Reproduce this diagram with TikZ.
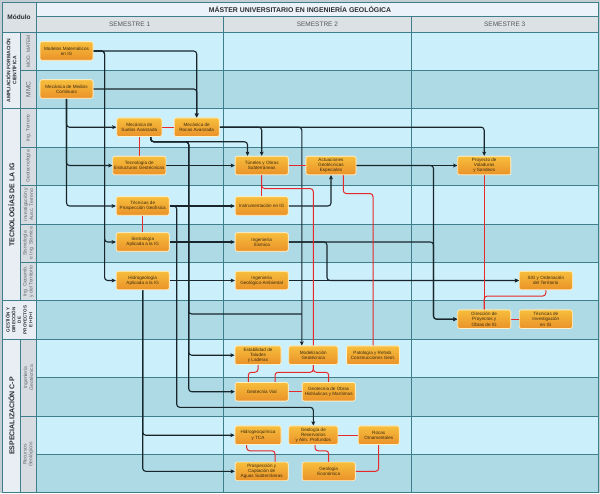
\documentclass[tikz,border=0pt]{standalone}
\usepackage{fontspec}
\setmainfont{Liberation Sans}
\usetikzlibrary{arrows.meta,calc}
\definecolor{outerbg}{HTML}{C4CDD3}
\definecolor{titlebg}{HTML}{ECF2F9}
\definecolor{sembg}{HTML}{DCE1E5}
\definecolor{modbg}{HTML}{E8EEF4}
\definecolor{subbg}{HTML}{D6DCE1}
\definecolor{rowlight}{HTML}{CBEFFB}
\definecolor{rowdark}{HTML}{AEDAE6}
\definecolor{gridc}{HTML}{3F7F8C}
\definecolor{boxtop}{HTML}{F7BE3C}
\definecolor{boxbot}{HTML}{EA9229}
\definecolor{boxborder}{HTML}{FFF0C8}
\definecolor{boxtext}{HTML}{3A2A10}
\definecolor{redline}{HTML}{E52A2A}
\definecolor{arrc}{HTML}{18262C}
\definecolor{subtext}{HTML}{5F6A70}
\definecolor{darktext}{HTML}{2A2E31}
\begin{document}
\begin{tikzpicture}[x=1pt,y=-1pt,
  box/.style={draw=boxborder, line width=0.6pt, rounded corners=2pt,
    top color=boxtop, bottom color=boxbot, minimum height=18.5pt,
    inner sep=0.5pt, align=center, text=boxtext,
    font=\fontsize{4.6}{5.3}\selectfont},
  arr/.style={draw=arrc, line width=1.1pt, rounded corners=3pt,
    -{Stealth[length=4.2pt,width=3.8pt,inset=0.8pt]}},
  plain/.style={draw=arrc, line width=1.1pt, rounded corners=3pt},
  assoc/.style={draw=redline, line width=1pt, rounded corners=3pt},
  gridl/.style={draw=gridc, line width=0.9pt},
  sublab/.style={rotate=90, align=center, text=subtext,
    font=\fontsize{5}{5.9}\selectfont},
  modlab/.style={rotate=90, align=center, text=darktext},
  semlab/.style={text=darktext!80, font=\fontsize{6.5}{7.5}\selectfont}]
\useasboundingbox (0,0) rectangle (600,493);
% backgrounds
\fill[outerbg] (0,0) rectangle (600,493);
\fill[titlebg] (36,2) rectangle (598,16);
\fill[sembg] (2,2) rectangle (36,32);
\fill[sembg] (36,16) rectangle (598,32);
\foreach \i in {0,2,...,10}{
  \fill[rowlight] (36,32+38.4*\i) rectangle (598,70.4+38.4*\i);}
\foreach \i in {1,3,...,11}{
  \fill[rowdark] (36,32+38.4*\i) rectangle (598,70.4+38.4*\i);}
\fill[modbg] (2,32) rectangle (20.7,492.8);
\fill[subbg] (20.7,32) rectangle (36,492.8);
\fill[modbg] (2,300.8) rectangle (36,339.2);
% grid
\draw[gridl] (2,2) rectangle (598,492.8);
\draw[gridl] (36,16) -- (598,16);
\foreach \y in {32,108.8,300.8,339.2}{\draw[gridl] (2,\y) -- (598,\y);}
\foreach \y in {70.4,147.2,185.6,224,262.4,416}{\draw[gridl] (20.7,\y) -- (598,\y);}
\foreach \y in {377.6,454.4}{\draw[gridl] (36,\y) -- (598,\y);}
\draw[gridl] (20.7,32) -- (20.7,300.8);
\draw[gridl] (20.7,339.2) -- (20.7,492.8);
\draw[gridl] (36,2) -- (36,492.8);
\draw[gridl] (223.3,16) -- (223.3,492.8);
\draw[gridl] (411.5,16) -- (411.5,492.8);
% headers
\node[text=darktext, font=\bfseries\fontsize{6.9}{8}\selectfont] (title) at (300,9) {MÁSTER UNIVERSITARIO EN INGENIERÍA GEOLÓGICA};
\node[text=darktext, font=\bfseries\fontsize{6.5}{7.5}\selectfont] (modulo) at (19,17) {Módulo};
\node[semlab] (s1) at (129.6,24) {SEMESTRE 1};
\node[semlab] (s2) at (317.4,24) {SEMESTRE 2};
\node[semlab] (s3) at (504.7,24) {SEMESTRE 3};
% module labels
\node[modlab, font=\bfseries\fontsize{5}{6}\selectfont] (mA) at (11.3,70.4) {AMPLIACIÓN FORMACIÓN\\CIENTÍFICA};
\node[modlab, font=\bfseries\fontsize{7}{8}\selectfont] (mB) at (11.3,204.8) {TECNOLOGÍAS DE LA IG};
\node[modlab, font=\bfseries\fontsize{4.5}{5.7}\selectfont] (mC) at (19,320) {GESTIÓN Y\\DIRECCIÓN\\DE\\PROYECTOS\\E I+D+I};
\node[modlab, font=\bfseries\fontsize{7}{8}\selectfont] (mD) at (11.3,416) {ESPECIALIZACIÓN C-P};
% submodule labels
\node[sublab] (l1) at (28.3,51.2) {MOD. MATEM};
\node[sublab, font=\fontsize{6.5}{7.5}\selectfont] (l2) at (28.3,89.6) {MMC};
\node[sublab] (l3) at (28.3,128) {Ing. Terreno};
\node[sublab] (l4) at (28.3,166.4) {Geotecnología};
\node[sublab] (l5) at (28.3,204.8) {Investigación y\\Ausc. Terreno};
\node[sublab] (l6) at (28.3,243.2) {Sismología\\e Ing. Sísmica};
\node[sublab] (l7) at (28.3,281.6) {Ing. Geoamb.\\y del Territorio};
\node[sublab] (l8) at (28.3,377.6) {Ingeniería\\Geotécnica};
\node[sublab] (l9) at (28.3,454.4) {Recursos\\Geológicos};
% boxes (placed as coordinates first, drawn last)
\begin{scope}[every node/.style={box}]
\path
 node[minimum width=53pt] (mm) at (66.5,51) {Modelos Matemáticos\\en IG}
 node[minimum width=53pt] (mmc) at (66.5,89) {Mecánica de Medios\\Continuos}
 node[minimum width=45pt] (msa) at (139.3,127.2) {Mecánica de\\Suelos Avanzada}
 node[minimum width=45pt] (mra) at (196.7,127.2) {Mecánica de\\Rocas Avanzada}
 node[minimum width=53pt] (teg) at (139.3,165.5) {Tecnología de\\Estructuras Geotécnicas}
 node[minimum width=53pt] (tpg) at (142.7,206) {Técnicas de\\Prospección Geofísica}
 node[minimum width=53pt] (sai) at (142.7,242) {Sismología\\Aplicada a la IG}
 node[minimum width=53pt] (hai) at (142.7,280.5) {Hidrogeología\\Aplicada a la IG}
 node[minimum width=53pt] (tos) at (261.7,165.5) {Túneles y Obras\\Subterráneas}
 node[minimum width=50pt] (age) at (331,165.5) {Actuaciones\\Geotécnicas\\Especiales}
 node[minimum width=53pt] (iig) at (261.7,206) {Instrumentación en IG}
 node[minimum width=53pt] (isi) at (261.7,242) {Ingeniería\\Sísmica}
 node[minimum width=53pt] (iga) at (261.7,280.5) {Ingeniería\\Geológico-Ambiental}
 node[minimum width=53pt] (pvs) at (484.2,165.5) {Proyecto de\\Voladuras\\y Sondeos}
 node[minimum width=53pt] (sig) at (545.8,280.5) {SIG y Ordenación\\del Territorio}
 node[minimum width=53pt] (dpo) at (484.2,319.2) {Dirección de\\Proyectos y\\Obras de IG}
 node[minimum width=53pt] (tii) at (545.8,319.2) {Técnicas de\\Investigación\\en IG}
 node[minimum width=46pt] (etl) at (258,355.2) {Estabilidad de\\Taludes\\y Laderas}
 node[minimum width=49pt] (mge) at (313.3,355.2) {Modelización\\Geotécnica}
 node[minimum width=53pt] (prc) at (373,355.2) {Patología y Rehab.\\Construcciones Geot.}
 node[minimum width=53pt] (gvi) at (261.7,391.7) {Geotecnia Vial}
 node[minimum width=53pt] (goh) at (328.7,391.7) {Geotecnia de Obras\\Hidráulicas y Marítimas}
 node[minimum width=46pt] (htc) at (258,435.2) {Hidrogeoquímica\\y TCA}
 node[minimum width=49pt] (gra) at (313.3,435.2) {Geología de\\Reservorios\\y Alm. Profundos}
 node[minimum width=41pt] (roc) at (378.7,435.2) {Rocas\\Ornamentales}
 node[minimum width=53pt] (pca) at (261.7,471.3) {Prospección y\\Captación de\\Aguas Subterráneas}
 node[minimum width=53pt] (gec) at (328.7,471.3) {Geología\\Económica};
\end{scope}
% junction coordinates
\coordinate (cA) at (188.7,314);
\coordinate (cB) at (301.8,314);
\coordinate (cC) at (176.7,407.3);
% black connectors
\begin{scope}[on background layer/.style={}]
\draw[arr] (mm.east) -| (mra.north);
\draw[arr] (mmc.east) -| (mra.north);
\draw[arr] (mm.east) -- ++(11.3,0) |- (sai.west);
\draw[arr] (mm.east) -- ++(11.3,0) |- (hai.west);
\draw[arr] (mmc.south) |- (msa.west);
\draw[arr] (mmc.south) |- (teg.west);
\draw[arr] (mmc.south) |- (tpg.west);
\draw[arr] ([xshift=11.4pt]msa.south) -- ++(0,5) -| ([xshift=-14.2pt]tos.north);
\draw[plain] ([xshift=11.4pt]msa.south) -- ++(0,5) -| (cA) -- (cB);
\draw[arr] ([xshift=11.4pt]msa.south) -- ++(0,5) -| (cA) |- (etl.west);
\draw[arr] ([xshift=11.4pt]msa.south) -- ++(0,5) -| (cA) |- (gvi.west);
\draw[arr] (mra.east) -| (tos.north);
\draw[arr] (mra.east) -| ([xshift=-11.5pt]mge.north);
\draw[arr] (mra.east) -| (pvs.north);
\draw[arr] (teg.east) -- (tos.west);
\draw[arr] (tpg.east) -- (iig.west);
\draw[arr] (tpg.east) -| (cC) -| (gra.north);
\draw[arr] (sai.east) -- (isi.west);
\draw[arr] (hai.east) -- (iga.west);
\draw[arr] (hai.south) |- (htc.west);
\draw[arr] (hai.south) |- (pca.west);
\draw[arr] (iig.east) -| (age.south);
\draw[arr] (age.east) -- (pvs.west);
\draw[arr] (age.east) -| ([xshift=-23.9pt]dpo.west) -- (dpo.west);
\draw[arr] (isi.east) -| ([xshift=-23.9pt]dpo.west) -- (dpo.west);
\draw[arr] (isi.east) -| ([xshift=38.5pt]iga.east) -- (sig.west);
\draw[arr] (iga.east) -- (sig.west);
\end{scope}
% red associations
\draw[assoc] (msa.east) -- (mra.west);
\draw[assoc] (msa.south) -- (teg.north);
\draw[assoc] (tos.east) -- (age.west);
\draw[assoc] (tos.south) -- (iig.north);
\draw[assoc] (tos.south) -- ++(0,13.5) -| (mge.north);
\draw[assoc] ([xshift=12.3pt]age.south) -- ++(0,18.5) -| (prc.north);
\draw[assoc] (tpg.south) -- (sai.north);
\draw[assoc] (pvs.south) -- (dpo.north);
\draw[assoc] (sig.south) -- ++(0,6) -| (dpo.north);
\draw[assoc] (dpo.east) -- (tii.west);
\draw[assoc] (etl.south) -- ++(0,7.5) -| ([xshift=-13.4pt]gvi.north);
\draw[assoc] (mge.south) -- ++(0,7.5) -| ([xshift=13.3pt]gvi.north);
\draw[assoc] (mge.south) -- ++(0,7.5) -| (goh.north);
\draw[assoc] (gvi.east) -- (goh.west);
\draw[assoc] (gra.east) -- (roc.west);
\draw[assoc] ([xshift=-11.3pt]htc.south) -- ++(0,6) -| ([xshift=13.3pt]pca.north);
\draw[assoc] ([xshift=1.7pt]gra.south) -- ++(0,6) -| (gec.north);
\draw[assoc] (roc.south) |- (gec.east);
% redraw boxes on top
\begin{scope}[every node/.style={box}]
\node[minimum width=53pt] at (mm) {Modelos Matemáticos\\en IG};
\node[minimum width=53pt] at (mmc) {Mecánica de Medios\\Continuos};
\node[minimum width=45pt] at (msa) {Mecánica de\\Suelos Avanzada};
\node[minimum width=45pt] at (mra) {Mecánica de\\Rocas Avanzada};
\node[minimum width=53pt] at (teg) {Tecnología de\\Estructuras Geotécnicas};
\node[minimum width=53pt] at (tpg) {Técnicas de\\Prospección Geofísica};
\node[minimum width=53pt] at (sai) {Sismología\\Aplicada a la IG};
\node[minimum width=53pt] at (hai) {Hidrogeología\\Aplicada a la IG};
\node[minimum width=53pt] at (tos) {Túneles y Obras\\Subterráneas};
\node[minimum width=50pt] at (age) {Actuaciones\\Geotécnicas\\Especiales};
\node[minimum width=53pt] at (iig) {Instrumentación en IG};
\node[minimum width=53pt] at (isi) {Ingeniería\\Sísmica};
\node[minimum width=53pt] at (iga) {Ingeniería\\Geológico-Ambiental};
\node[minimum width=53pt] at (pvs) {Proyecto de\\Voladuras\\y Sondeos};
\node[minimum width=53pt] at (sig) {SIG y Ordenación\\del Territorio};
\node[minimum width=53pt] at (dpo) {Dirección de\\Proyectos y\\Obras de IG};
\node[minimum width=53pt] at (tii) {Técnicas de\\Investigación\\en IG};
\node[minimum width=46pt] at (etl) {Estabilidad de\\Taludes\\y Laderas};
\node[minimum width=49pt] at (mge) {Modelización\\Geotécnica};
\node[minimum width=53pt] at (prc) {Patología y Rehab.\\Construcciones Geot.};
\node[minimum width=53pt] at (gvi) {Geotecnia Vial};
\node[minimum width=53pt] at (goh) {Geotecnia de Obras\\Hidráulicas y Marítimas};
\node[minimum width=46pt] at (htc) {Hidrogeoquímica\\y TCA};
\node[minimum width=49pt] at (gra) {Geología de\\Reservorios\\y Alm. Profundos};
\node[minimum width=41pt] at (roc) {Rocas\\Ornamentales};
\node[minimum width=53pt] at (pca) {Prospección y\\Captación de\\Aguas Subterráneas};
\node[minimum width=53pt] at (gec) {Geología\\Económica};
\end{scope}
\end{tikzpicture}
\end{document}
